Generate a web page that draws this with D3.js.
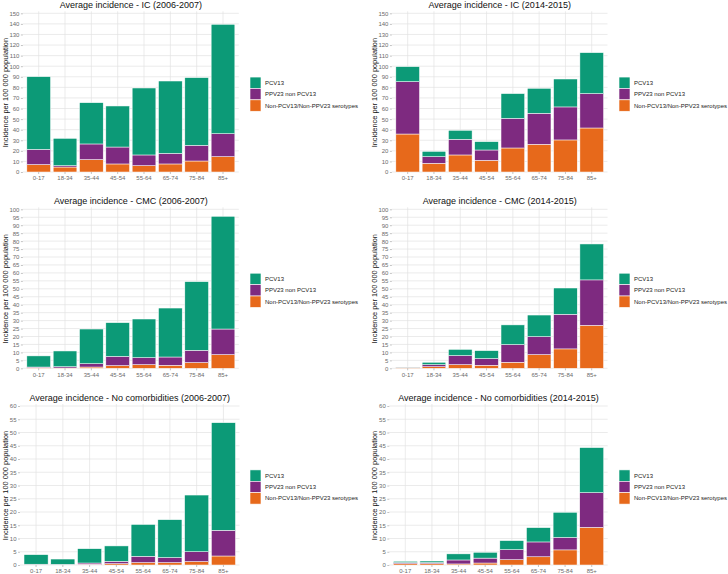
<!DOCTYPE html>
<html>
<head>
<meta charset="utf-8">
<script src="https://cdn.jsdelivr.net/npm/d3@7"></script>
<style>
  html, body { margin: 0; padding: 0; background: #fff; }
  svg { display: block; font-family: "Liberation Sans", Arial, sans-serif; }
</style>
</head>
<body>
<svg id="chart" width="728" height="574"></svg>
<script>
// ---------------- DATA ----------------
const categories = ["0-17", "18-34", "35-44", "45-54", "55-64", "65-74", "75-84", "85+"];
const seriesNames = ["PCV13", "PPV23 non PCV13", "Non-PCV13/Non-PPV23 serotypes"];
const panelTitles = [
  "Average incidence - IC (2006-2007)",
  "Average incidence - IC (2014-2015)",
  "Average incidence - CMC (2006-2007)",
  "Average incidence - CMC (2014-2015)",
  "Average incidence - No comorbidities (2006-2007)",
  "Average incidence - No comorbidities (2014-2015)"
];
const yAxisTitle = "Incidence per 100 000 population";
const yMaxes = [150, 150, 100, 100, 60, 60];
const yTickSteps = [10, 10, 5, 5, 5, 5];

// IC 2006-2007
const ic0607Other = [7.0, 4.7, 11.7, 7.6, 6.0, 7.6, 10.4, 14.5];
const ic0607Ppv23 = [14.4, 1.3, 14.8, 16.0, 10.1, 10.0, 14.8, 21.7];
const ic0607Pcv13 = [68.7, 25.8, 39.0, 38.8, 63.3, 68.4, 64.0, 103.4];
// IC 2014-2015
const ic1415Other = [35.9, 8.2, 16.1, 11.0, 22.7, 26.2, 30.3, 41.6];
const ic1415Ppv23 = [49.5, 6.3, 14.8, 9.8, 28.0, 29.3, 31.2, 32.5];
const ic1415Pcv13 = [14.2, 5.0, 8.5, 7.9, 23.4, 23.6, 26.4, 38.7];
// CMC 2006-2007
const cmc0607Other = [0.4, 0.2, 0.8, 1.7, 2.3, 1.9, 3.6, 8.6];
const cmc0607Ppv23 = [0.4, 0.8, 2.1, 5.8, 4.4, 5.2, 7.7, 16.1];
const cmc0607Pcv13 = [7.0, 9.9, 21.8, 21.2, 24.3, 30.8, 43.2, 70.9];
// CMC 2014-2015
const cmc1415Other = [0.5, 1.0, 2.3, 1.9, 3.8, 8.6, 12.2, 27.0];
const cmc1415Ppv23 = [0.2, 1.3, 5.7, 4.2, 11.1, 11.3, 21.8, 28.6];
const cmc1415Pcv13 = [0.1, 1.5, 3.9, 5.0, 12.4, 13.6, 16.5, 22.6];
// No comorbidities 2006-2007
const noc0607Other = [0.15, 0.1, 0.25, 0.5, 0.9, 0.9, 1.3, 3.4];
const noc0607Ppv23 = [0.15, 0.15, 0.5, 0.9, 2.4, 1.9, 3.7, 9.7];
const noc0607Pcv13 = [3.6, 2.0, 5.4, 5.8, 12.0, 14.3, 21.4, 40.6];
// No comorbidities 2014-2015
const noc1415Other = [0.5, 0.5, 0.4, 0.75, 2.0, 3.1, 5.7, 14.2];
const noc1415Ppv23 = [0.4, 0.4, 1.5, 1.85, 3.8, 5.6, 4.7, 13.1];
const noc1415Pcv13 = [0.5, 0.6, 2.3, 2.2, 3.4, 5.4, 9.5, 17.0];

// ---------------- STYLE / LAYOUT ----------------
const colors = { "PCV13": "#0C9A77", "PPV23 non PCV13": "#7E2A80", "Non-PCV13/Non-PPV23 serotypes": "#E7691B" };
const stackOrder = ["Non-PCV13/Non-PPV23 serotypes", "PPV23 non PCV13", "PCV13"]; // bottom to top

const panelData = [
  [ic0607Pcv13, ic0607Ppv23, ic0607Other],
  [ic1415Pcv13, ic1415Ppv23, ic1415Other],
  [cmc0607Pcv13, cmc0607Ppv23, cmc0607Other],
  [cmc1415Pcv13, cmc1415Ppv23, cmc1415Other],
  [noc0607Pcv13, noc0607Ppv23, noc0607Other],
  [noc1415Pcv13, noc1415Ppv23, noc1415Other]
];

const layouts = [
  { x0: 22.9, x1: 238.8, y0: 13.3, y1: 172, yt: 5,   legX: 250 },
  { x0: 391.9, x1: 607.5, y0: 13.3, y1: 172, yt: 374, legX: 619 },
  { x0: 22.9, x1: 238.8, y0: 209.3, y1: 368.3, yt: 5,   legX: 250 },
  { x0: 391.9, x1: 607.5, y0: 209.3, y1: 368.3, yt: 374, legX: 619 },
  { x0: 20.0, x1: 239.5, y0: 406, y1: 565, yt: 5,   legX: 250 },
  { x0: 389.3, x1: 607.7, y0: 406, y1: 565, yt: 374, legX: 619 }
];

const svg = d3.select("#chart");
const gridColor = "#e3e3e3";
const axisTextColor = "#6b6b6b";

panelData.forEach((arrs, pi) => {
  const L = layouts[pi];
  const g = svg.append("g");
  const rows = categories.map((c, i) => {
    const r = { cat: c };
    seriesNames.forEach((s, si) => { r[s] = arrs[si][i]; });
    return r;
  });

  const x = d3.scaleBand().domain(categories).range([L.x0, L.x1]).paddingInner(0.1).paddingOuter(0.15);
  const y = d3.scaleLinear().domain([0, yMaxes[pi]]).range([L.y1, L.y0]);
  const ticks = d3.range(0, yMaxes[pi] + 0.001, yTickSteps[pi]);

  // gridlines
  g.append("g").selectAll("line.h").data(ticks).join("line")
    .attr("x1", L.x0).attr("x2", L.x1)
    .attr("y1", d => y(d)).attr("y2", d => y(d))
    .attr("stroke", gridColor).attr("stroke-width", 0.7);
  g.append("g").selectAll("line.v").data(categories).join("line")
    .attr("x1", d => x(d) + x.bandwidth() / 2).attr("x2", d => x(d) + x.bandwidth() / 2)
    .attr("y1", L.y0 - 2).attr("y2", L.y1)
    .attr("stroke", gridColor).attr("stroke-width", 0.7);

  // stacked bars
  const stack = d3.stack().keys(stackOrder)(rows);
  g.append("g").selectAll("g").data(stack).join("g")
    .attr("fill", d => colors[d.key])
    .selectAll("rect").data(d => d).join("rect")
    .attr("x", d => x(d.data.cat))
    .attr("width", x.bandwidth())
    .attr("y", d => y(d[1]))
    .attr("height", d => Math.max(0, y(d[0]) - y(d[1])))
    .attr("stroke", "#ffffff").attr("stroke-width", 0.5);

  // y axis
  const yAxis = d3.axisLeft(y).tickValues(ticks).tickSize(2).tickPadding(1.5).tickFormat(d3.format("d"));
  const ya = g.append("g").attr("transform", `translate(${L.x0},0)`).call(yAxis);
  ya.select(".domain").remove();
  ya.selectAll(".tick line").attr("stroke", "#9a9a9a").attr("stroke-width", 0.6);
  ya.selectAll(".tick text").attr("fill", axisTextColor).style("font-size", "6px");

  // x axis
  const xAxis = d3.axisBottom(x).tickSize(2).tickPadding(2);
  const xa = g.append("g").attr("transform", `translate(0,${L.y1})`).call(xAxis);
  xa.select(".domain").remove();
  xa.selectAll(".tick line").attr("stroke", "#9a9a9a").attr("stroke-width", 0.6);
  xa.selectAll(".tick text").attr("fill", axisTextColor).style("font-size", "6px");

  // title
  g.append("text").attr("x", (L.x0 + L.x1) / 2).attr("y", L.y0 - 5)
    .attr("text-anchor", "middle").style("font-size", "9px").attr("fill", "#111")
    .text(panelTitles[pi]);

  // y axis title
  g.append("text")
    .attr("transform", `translate(${L.yt + 2.6},${(L.y0 + L.y1) / 2}) rotate(-90)`)
    .attr("text-anchor", "middle").style("font-size", "7.4px").attr("fill", "#111")
    .text(yAxisTitle);

  // legend
  const keyW = 11, keyH = 11.4;
  const legTop = (L.y0 + L.y1) / 2 + 1.5 - keyH * 1.5;
  const lg = g.append("g").attr("transform", `translate(${L.legX},${legTop})`);
  const items = lg.selectAll("g").data(seriesNames).join("g")
    .attr("transform", (d, i) => `translate(0,${i * keyH})`);
  items.append("rect").attr("width", keyW).attr("height", keyH)
    .attr("fill", d => colors[d]).attr("stroke", "#fff").attr("stroke-width", 0.6);
  items.append("text").attr("x", keyW + 4).attr("y", keyH / 2 + 2.1)
    .style("font-size", "6px").attr("fill", "#222").text(d => d);
});
</script>
</body>
</html>
